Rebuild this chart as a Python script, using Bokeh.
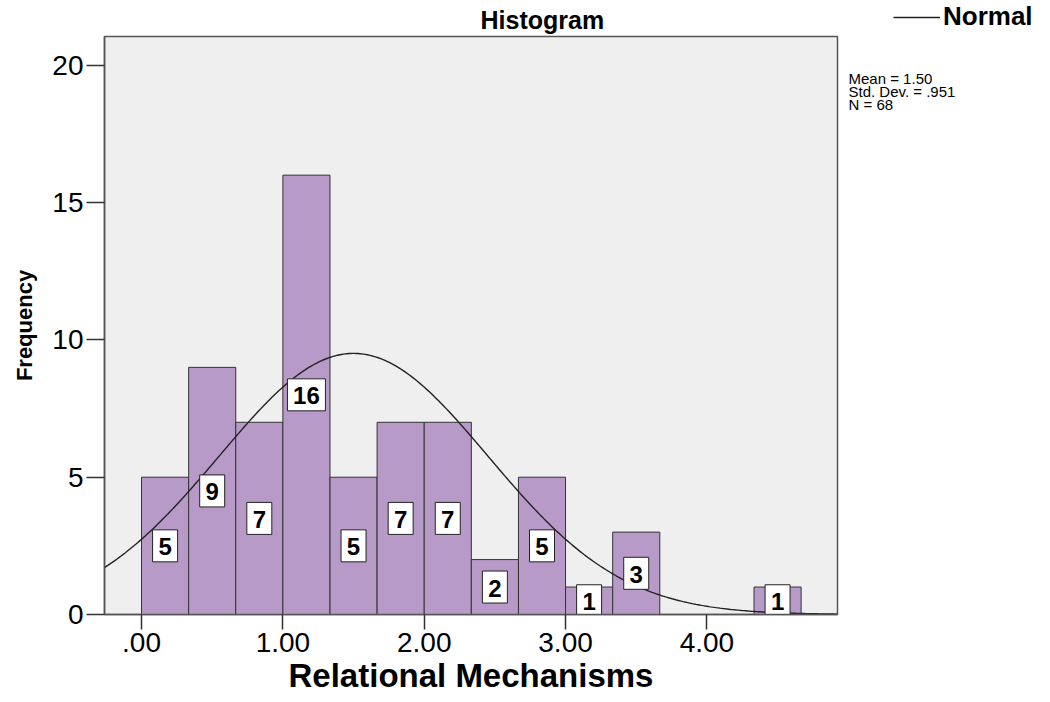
import numpy as np
from bokeh.plotting import figure
from bokeh.layouts import row
from bokeh.models import Range1d, FixedTicker, Label, Legend, LegendItem, ColumnDataSource
from bokeh.core.properties import value
from bokeh.embed import file_html
from bokeh.resources import INLINE

# Histogram of Relational Mechanisms scores: bins of width 1/3 starting at 0
bin_width = 1.0 / 3.0
bin_starts = [0.0, 1/3, 2/3, 1.0, 4/3, 5/3, 2.0, 7/3, 8/3, 3.0, 10/3, 11/3, 4.0, 13/3]
counts = [5, 9, 7, 16, 5, 7, 7, 2, 5, 1, 3, 0, 0, 1]

# Summary statistics shown beside the plot and used for the normal curve
mean = 1.50
std_dev = 0.951
n_obs = 68

x_ticks = [0, 1, 2, 3, 4]
x_tick_labels = [".00", "1.00", "2.00", "3.00", "4.00"]
y_ticks = [0, 5, 10, 15, 20]

FONT = "Liberation Sans"
BAR_FILL = "#b89ac8"
PLOT_BG = "#efefef"
X_LO, X_HI = -0.262, 4.924

p = figure(
    width=840, height=702,
    output_backend="svg", toolbar_location=None,
    x_range=Range1d(X_LO, X_HI), y_range=Range1d(0, 21.05),
    min_border_left=104, min_border_right=3,
    min_border_top=36, min_border_bottom=88,
    background_fill_color=PLOT_BG, border_fill_color="white",
)
p.frame_align = False
p.grid.visible = False
p.outline_line_color = "#555555"
p.outline_line_width = 1.5

# Title
p.title.text = "Histogram"
p.title.text_font = FONT
p.title.text_font_size = "25px"
p.title.text_font_style = "bold"
p.title.text_color = "black"
p.title.align = "left"
p.title.offset = 376
p.title.standoff = 6

# Bars (empty bins are not drawn)
nz = [i for i, c in enumerate(counts) if c > 0]
bars = ColumnDataSource(dict(
    left=[bin_starts[i] for i in nz],
    right=[bin_starts[i] + bin_width for i in nz],
    top=[counts[i] for i in nz],
))
p.quad(left="left", right="right", bottom=0, top="top", source=bars,
       fill_color=BAR_FILL, line_color="#333333", line_width=1)

# Normal curve scaled to the histogram
xs = np.linspace(X_LO, X_HI, 400)
ys = n_obs * bin_width / (std_dev * np.sqrt(2 * np.pi)) * np.exp(-0.5 * ((xs - mean) / std_dev) ** 2)
p.line(xs, ys, line_color="#222222", line_width=1.4)

# Count labels in white boxes, placed at half the bar height
lab = ColumnDataSource(dict(
    x=[bin_starts[i] + bin_width / 2 for i in nz],
    y=[counts[i] / 2 for i in nz],
    text=[str(counts[i]) for i in nz],
    w=[12 + 13 * len(str(counts[i])) for i in nz],
))
p.rect(x="x", y="y", width="w", height=32, width_units="screen", height_units="screen",
       source=lab, fill_color="white", line_color="#222222", line_width=1)
p.text(x="x", y="y", text="text", source=lab, text_align="center", text_baseline="middle",
       text_font=value(FONT), text_font_size="24px", text_font_style="bold", text_color="black",
       y_offset=1)

# Axes
for ax in (p.xaxis[0], p.yaxis[0]):
    ax.axis_line_color = "#555555"
    ax.axis_line_width = 1.5
    ax.major_tick_line_color = "#333333"
    ax.major_tick_line_width = 1.5
    ax.major_tick_in = 0
    ax.minor_tick_line_color = None
    ax.major_label_text_font = FONT
    ax.major_label_text_font_size = "28px"
    ax.major_label_text_color = "black"
    ax.axis_label_text_font = FONT
    ax.axis_label_text_font_style = "bold"
    ax.axis_label_text_color = "black"

p.xaxis.ticker = FixedTicker(ticks=x_ticks)
p.xaxis.major_label_overrides = {t: s for t, s in zip(x_ticks, x_tick_labels)}
p.xaxis.major_tick_out = 15
p.xaxis.major_label_standoff = 3
p.xaxis.axis_label = "Relational Mechanisms"
p.xaxis.axis_label_text_font_size = "33px"
p.xaxis.axis_label_standoff = 2

p.yaxis.ticker = FixedTicker(ticks=y_ticks)
p.yaxis.major_tick_out = 18
p.yaxis.major_label_standoff = 3
p.yaxis.axis_label = "Frequency"
p.yaxis.axis_label_text_font_size = "22px"
p.yaxis.axis_label_standoff = 12

# Side panel (pixel-like coordinates, y measured from the bottom):
# legend for the normal curve and the statistics block
SIDE_W, SIDE_H = 210, 702
side = figure(
    width=SIDE_W, height=SIDE_H, title=None,
    output_backend="svg", toolbar_location=None,
    x_range=Range1d(0, SIDE_W), y_range=Range1d(0, SIDE_H),
    x_axis_location=None, y_axis_location=None,
    min_border=0, outline_line_color=None,
    background_fill_color="white", border_fill_color="white",
)
side.frame_align = False
side.grid.visible = False

# legend key renderer: its own points lie outside the visible panel
key_line = side.line([-20, -10], [-20, -20], line_color="#222222", line_width=1.4)
legend = Legend(items=[LegendItem(label="Normal", renderers=[key_line])],
                location=(53, SIDE_H - 32), orientation="vertical",
                glyph_width=47, glyph_height=30, label_height=30, label_standoff=3,
                padding=0, margin=0, spacing=0,
                label_text_font=FONT, label_text_font_size="26px", label_text_font_style="bold",
                label_text_color="black", background_fill_alpha=0, border_line_alpha=0)
side.add_layout(legend)

stats = [f"Mean = {mean:.2f}", "Std. Dev. = " + f"{std_dev:.3f}".lstrip("0"), f"N = {n_obs}"]
for k, s in enumerate(stats):
    side.add_layout(Label(x=8, y=SIDE_H - 69 - 13 * k, text=s, text_font=FONT, text_font_size="15px",
                          text_baseline="top", text_align="left", text_color="black"))

open("out.html", "w").write(file_html(row(p, side), INLINE))
